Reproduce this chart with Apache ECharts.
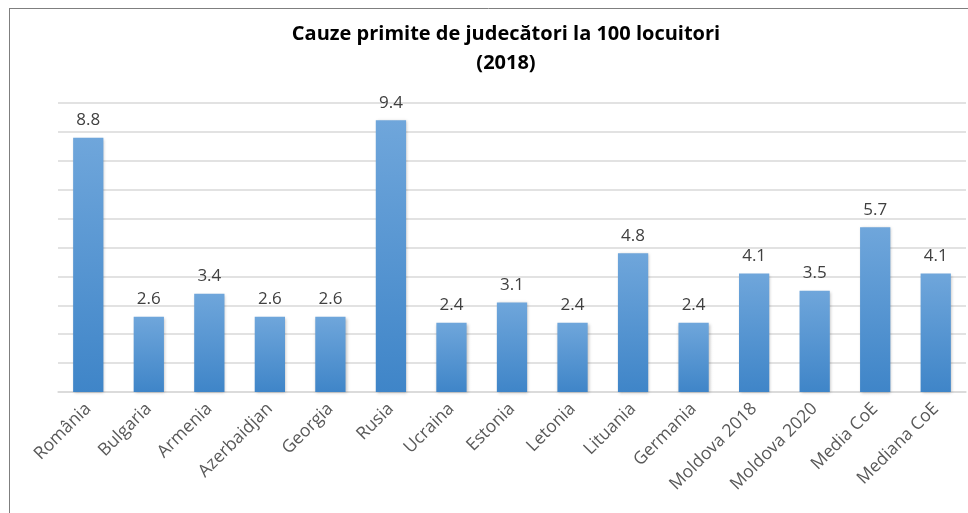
<!DOCTYPE html>
<html><head><meta charset="utf-8">
<script src="https://cdn.jsdelivr.net/npm/echarts@6/dist/echarts.min.js"></script>
<style>html,body{margin:0;padding:0;background:#fff}#c{width:968px;height:513px}</style>
</head><body><div id="c"></div>
<script>
const categories = ['România','Bulgaria','Armenia','Azerbaidjan','Georgia','Rusia','Ucraina','Estonia','Letonia','Lituania','Germania','Moldova 2018','Moldova 2020','Media CoE','Mediana CoE'];
const values = [8.8, 2.6, 3.4, 2.6, 2.6, 9.4, 2.4, 3.1, 2.4, 4.8, 2.4, 4.1, 3.5, 5.7, 4.1];
const titleText = 'Cauze primite de judecători la 100 locuitori\n(2018)';

const chart = echarts.init(document.getElementById('c'));
chart.setOption({
  backgroundColor: '#fff',
  animation: false,
  graphic: [
    {type:'line', shape:{x1:9.5,y1:8,x2:9.5,y2:513}, style:{stroke:'#7f7f7f',lineWidth:1}},
    {type:'line', shape:{x1:9,y1:8.5,x2:968,y2:8.5}, style:{stroke:'#7f7f7f',lineWidth:1}}
  ],
  title: {
    text: titleText,
    left: 501, top: 15, textAlign: 'center',
    textStyle: {fontFamily:'Open Sans', fontWeight:'bold', fontSize:20, color:'#000', lineHeight:29}
  },
  grid: {left: 58, right: 2, top: 103, bottom: 121},
  xAxis: {
    type: 'category', data: categories,
    axisLine: {lineStyle:{color:'#d9d9d9', width:1.5}},
    axisTick: {show:false},
    axisLabel: {rotate:45, interval:0, fontFamily:'Open Sans', fontSize:17.5, color:'#595959', margin:14}
  },
  yAxis: {
    type: 'value', min: 0, max: 10, interval: 1,
    axisLabel: {show:false}, axisLine:{show:false}, axisTick:{show:false},
    splitLine: {lineStyle:{color:'#d9d9d9', width:1.5}}
  },
  series: [{
    type: 'bar', data: values, barWidth: '50%',
    itemStyle: {
      color: new echarts.graphic.LinearGradient(0,0,0,1,[{offset:0,color:'#6fa6db'},{offset:1,color:'#3f85c8'}]),
      shadowColor:'rgba(0,0,0,0.25)', shadowBlur:3, shadowOffsetX:1, shadowOffsetY:1
    },
    label: {show:true, position:'top', distance:9, fontFamily:'Open Sans', fontSize:17, color:'#404040',
      formatter: p => p.value.toFixed(1)}
  }]
});
</script></body></html>
